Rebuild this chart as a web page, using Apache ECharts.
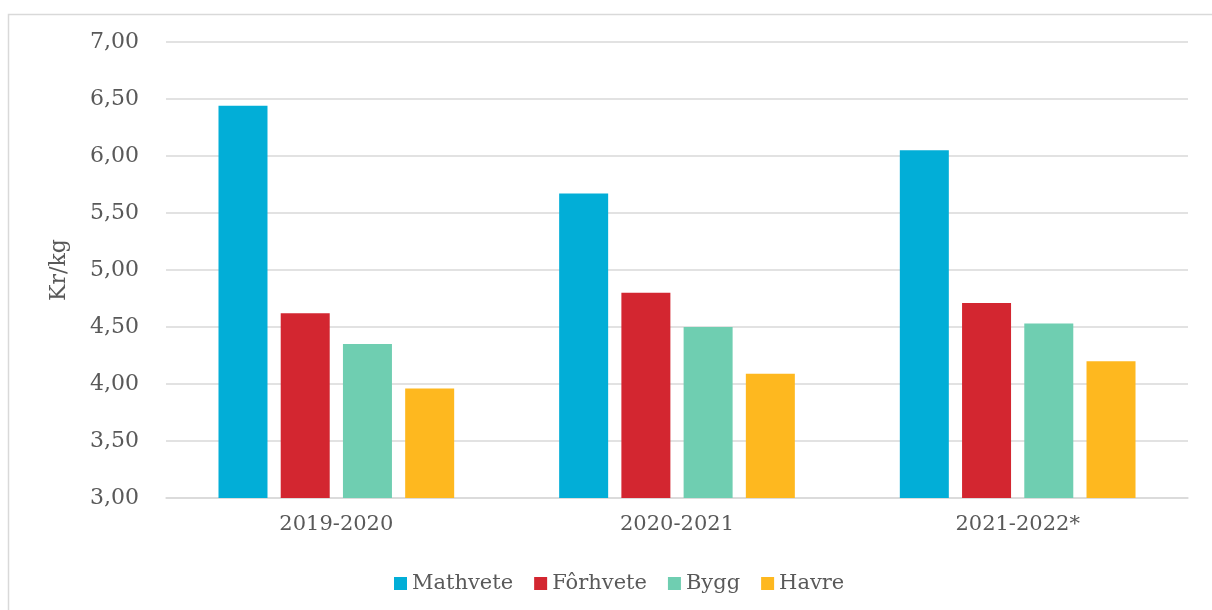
<!DOCTYPE html>
<html>
<head>
<meta charset="utf-8">
<script src="https://cdn.jsdelivr.net/npm/echarts@6/dist/echarts.min.js"></script>
<style>
html,body{margin:0;padding:0;background:#fff;}
#c{width:1212px;height:610px;}
</style>
</head>
<body>
<div id="c"></div>
<script>
const categories = ['2019-2020', '2020-2021', '2021-2022*'];
const seriesNames = ['Mathvete', 'Fôrhvete', 'Bygg', 'Havre'];
const mathvete = [6.44, 5.67, 6.05];
const forhvete = [4.62, 4.80, 4.71];
const bygg = [4.35, 4.50, 4.53];
const havre = [3.96, 4.09, 4.20];
const colors = ['#02AED7', '#D32630', '#6FCEB1', '#FEB81F'];
const yMin = 3, yMax = 7, yStep = 0.5;

const FONT = '"DejaVu Serif", Georgia, serif';
const TXT = '#595959';
const values = [mathvete, forhvete, bygg, havre];

const chart = echarts.init(document.getElementById('c'), null, {renderer: 'canvas'});
chart.setOption({
  backgroundColor: '#fff',
  animation: false,
  graphic: [{
    type: 'rect',
    left: 6, top: 12,
    shape: {x: 0, y: 0, width: 1240, height: 640},
    style: {fill: 'none', stroke: '#d9d9d9', lineWidth: 1.5},
    silent: true
  }],
  grid: {left: 166, right: 24, top: 42, bottom: 112},
  legend: {
    left: 389, top: 568,
    itemWidth: 13, itemHeight: 13, itemGap: 21,
    icon: 'rect',
    textStyle: {fontFamily: FONT, fontSize: 21, color: TXT},
    data: seriesNames
  },
  xAxis: {
    type: 'category',
    data: categories,
    axisLine: {show: true, lineStyle: {color: '#d9d9d9', width: 1.5}},
    axisTick: {show: false},
    axisLabel: {fontFamily: FONT, fontSize: 21, color: TXT, margin: 16}
  },
  yAxis: {
    type: 'value',
    min: yMin, max: yMax, interval: yStep,
    name: 'Kr/kg',
    nameLocation: 'middle',
    nameGap: 96,
    nameRotate: 90,
    nameTextStyle: {fontFamily: FONT, fontSize: 22, color: TXT},
    axisLine: {show: false},
    axisTick: {show: false},
    splitLine: {lineStyle: {color: '#d9d9d9', width: 1.5}},
    axisLabel: {
      fontFamily: FONT, fontSize: 22, color: TXT, margin: 27,
      formatter: v => v.toFixed(2).replace('.', ',')
    }
  },
  series: seriesNames.map((n, i) => ({
    name: n,
    type: 'bar',
    data: values[i],
    barWidth: 49,
    barGap: '27%',
    itemStyle: {color: colors[i]}
  }))
});
</script>
</body>
</html>
